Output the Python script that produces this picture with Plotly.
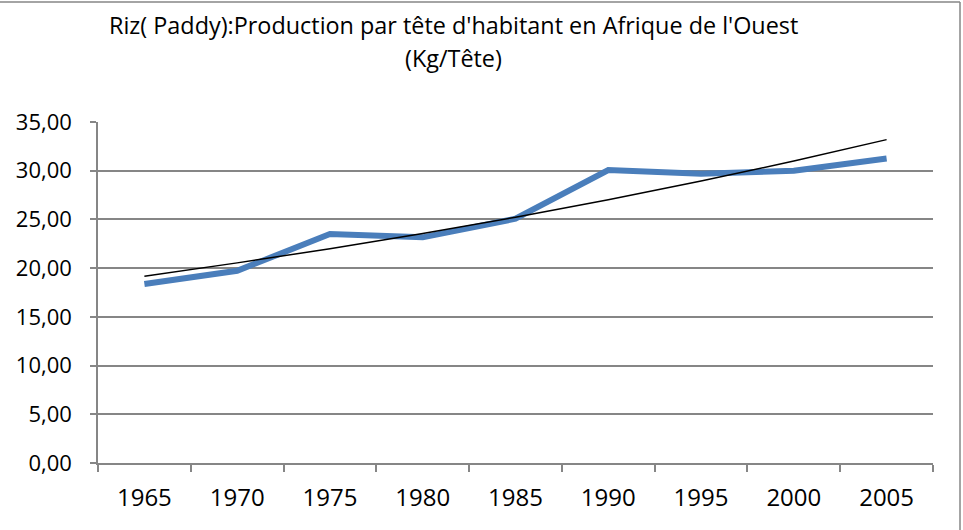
import numpy as np
import plotly.graph_objects as go

# Rice (paddy) production per head, West Africa
years = ['1965', '1970', '1975', '1980', '1985', '1990', '1995', '2000', '2005']
kg_per_head = [18.37, 19.73, 23.50, 23.16, 25.07, 30.07, 29.70, 30.00, 31.26]

y_ticks = [0, 5, 10, 15, 20, 25, 30, 35]
y_tick_labels = ['0,00', '5,00', '10,00', '15,00', '20,00', '25,00', '30,00', '35,00']

title_line1 = "Riz( Paddy):Production par tête d'habitant en Afrique de l'Ouest"
title_line2 = "(Kg/Tête)"

# exponential trend line (as Excel does it): fit on log values
idx = np.arange(len(years))
b, a = np.polyfit(idx, np.log(kg_per_head), 1)
trend = np.exp(a + b * idx)

W, H = 963, 530
ML, MR, MT, MB = 98, 30, 122, 67
pw, ph = W - ML - MR, H - MT - MB
GREY = '#868686'

fig = go.Figure()

fig.add_trace(go.Scatter(
    x=years, y=kg_per_head, mode='lines',
    line=dict(color='#4A7EBB', width=6),
    showlegend=False
))

fig.add_trace(go.Scatter(
    x=years, y=trend, mode='lines',
    line=dict(color='black', width=1.5),
    showlegend=False
))

# chart frame: only the top and right edges show in the original crop
x_left, x_right = -ML / pw, 1 + (MR - 3) / pw
y_top, y_bottom = 1 + (MT - 2) / ph, -MB / ph

fig.update_layout(
    width=W, height=H,
    margin=dict(l=ML, r=MR, t=MT, b=MB),
    plot_bgcolor='white',
    paper_bgcolor='white',
    font=dict(family='Open Sans', size=22, color='black'),
    xaxis=dict(
        type='category',
        range=[-0.5, len(years) - 0.5],
        tickson='boundaries',
        ticks='outside', ticklen=7, tickwidth=1.5, tickcolor=GREY,
        showgrid=False,
        showline=True, linecolor=GREY, linewidth=1.5,
        tickfont=dict(size=24),
        ticklabelstandoff=12,
    ),
    yaxis=dict(
        range=[0, 35],
        tickvals=y_ticks, ticktext=y_tick_labels,
        ticks='outside', ticklen=6, tickwidth=1.5, tickcolor=GREY,
        showgrid=True, gridcolor=GREY, gridwidth=1.5,
        zeroline=False,
        showline=True, linecolor=GREY, linewidth=1.5,
        tickfont=dict(size=22),
        ticklabelstandoff=14,
    ),
    shapes=[
        dict(type='line', xref='paper', yref='paper',
             x0=x_left, x1=x_right, y0=y_top, y1=y_top,
             line=dict(color=GREY, width=1.5)),
        dict(type='line', xref='paper', yref='paper',
             x0=x_right, x1=x_right, y0=y_top, y1=y_bottom,
             line=dict(color=GREY, width=1.5)),
    ],
    annotations=[
        dict(text=title_line1, xref='paper', yref='paper',
             x=(453 - ML) / pw, y=1 + (MT - 25) / ph,
             xanchor='center', yanchor='middle', showarrow=False,
             font=dict(size=23.4)),
        dict(text=title_line2, xref='paper', yref='paper',
             x=(453 - ML) / pw, y=1 + (MT - 58) / ph,
             xanchor='center', yanchor='middle', showarrow=False,
             font=dict(size=23.4)),
    ],
)

fig.write_html('out.html', config={'displayModeBar': False},
               post_script="document.body.style.margin='0';")
